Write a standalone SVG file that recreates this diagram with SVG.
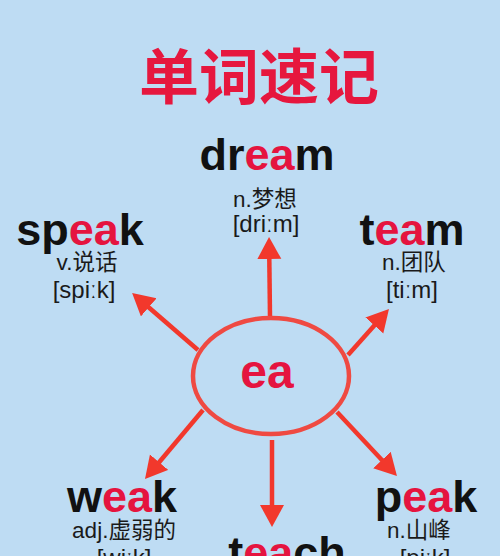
<svg xmlns="http://www.w3.org/2000/svg" width="500" height="556" viewBox="0 0 500 556">
<style>
.word{font-family:"Liberation Sans","Noto Sans CJK SC",sans-serif;font-weight:bold;font-size:45px;fill:#111;text-anchor:middle}
.hi{fill:#e5143f}
.def{font-family:"Liberation Sans","Noto Sans CJK SC",sans-serif;font-size:22.5px;fill:#1a1a1a;text-anchor:middle}
.ph{font-family:"Liberation Sans",sans-serif;font-size:24px;fill:#1a1a1a;text-anchor:middle}
.arrow{stroke:#f2382c;stroke-width:4.5;fill:none;marker-end:url(#ah)}
</style>
<defs>
<marker id="ah" markerUnits="userSpaceOnUse" markerWidth="24" markerHeight="26" refX="1" refY="12" orient="auto">
<path d="M0,0 L22,12 L0,24 z" fill="#f2382c"/>
</marker>
</defs>
<rect width="500" height="556" fill="#bedcf3"/>
<text id="title" x="259" y="99" font-family="'Noto Sans CJK SC',sans-serif" font-weight="bold" font-size="60" fill="#e6173e" text-anchor="middle">单词速记</text>
<g id="connectors">
<line class="arrow" x1="270" y1="317" x2="269.3" y2="258"/>
<line class="arrow" x1="198" y1="350" x2="148" y2="306.7"/>
<line class="arrow" x1="348" y1="355" x2="375" y2="324.7"/>
<line class="arrow" x1="203" y1="410" x2="158.5" y2="463"/>
<line class="arrow" x1="272" y1="440" x2="272" y2="506"/>
<line class="arrow" x1="337" y1="412" x2="382.6" y2="460.7"/>
</g>
<g id="center">
<ellipse cx="271" cy="376" rx="78" ry="58" fill="none" stroke="#ef4a42" stroke-width="4.5"/>
<text x="267" y="388" font-family="'Liberation Sans',sans-serif" font-weight="bold" font-size="48" fill="#e5143f" text-anchor="middle">ea</text>
</g>
<g id="dream">
<text class="word" x="267" y="170">dr<tspan class="hi">ea</tspan>m</text>
<text class="def" x="265" y="207">n.梦想</text>
<text class="ph" x="266" y="232">[driːm]</text>
</g>
<g id="speak">
<text class="word" x="80" y="245">sp<tspan class="hi">ea</tspan>k</text>
<text class="def" x="87" y="270">v.说话</text>
<text class="ph" x="84" y="298">[spiːk]</text>
</g>
<g id="team">
<text class="word" x="412" y="245">t<tspan class="hi">ea</tspan>m</text>
<text class="def" x="414" y="270">n.团队</text>
<text class="ph" x="412" y="298">[tiːm]</text>
</g>
<g id="weak">
<text class="word" x="122" y="512">w<tspan class="hi">ea</tspan>k</text>
<text class="def" x="124" y="538">adj.虚弱的</text>
<text class="ph" x="124" y="566">[wiːk]</text>
</g>
<g id="teach">
<text class="word" x="287" y="568">t<tspan class="hi">ea</tspan>ch</text>
</g>
<g id="peak">
<text class="word" x="426" y="512">p<tspan class="hi">ea</tspan>k</text>
<text class="def" x="419" y="538">n.山峰</text>
<text class="ph" x="425" y="566">[piːk]</text>
</g>
</svg>
